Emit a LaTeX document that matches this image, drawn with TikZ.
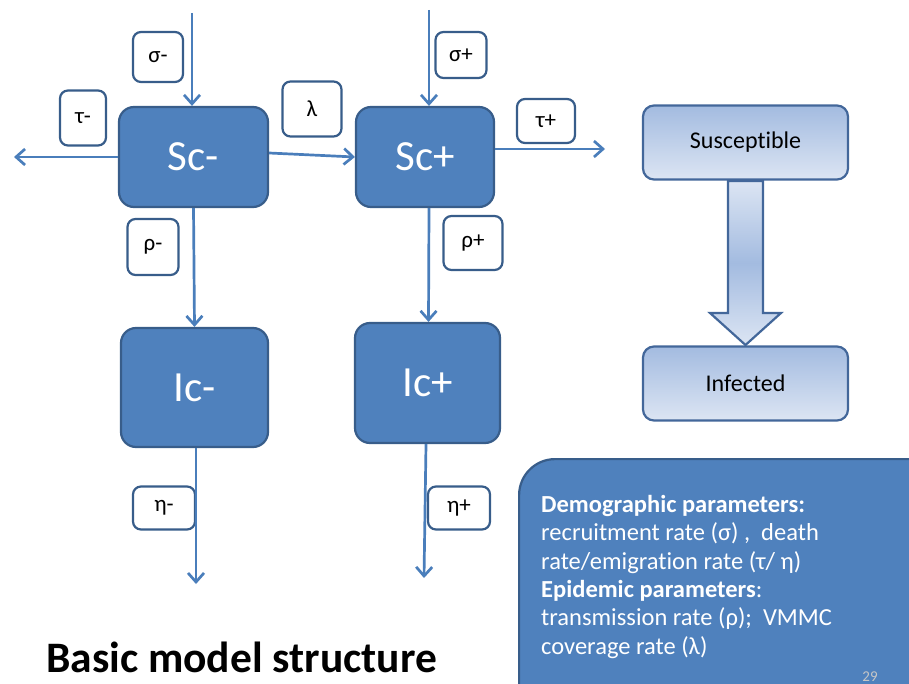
\documentclass[tikz,border=0pt]{standalone}
\usepackage{fontspec}
\setmainfont{Carlito}[Ligatures=NoCommon]
\usetikzlibrary{arrows.meta}
\usetikzlibrary{positioning}

\definecolor{boxblue}{HTML}{4F81BD}
\definecolor{edgeblue}{HTML}{385D8A}
\definecolor{lineblue}{HTML}{4A7EBB}
\definecolor{paletop}{HTML}{A3BBE0}
\definecolor{palebot}{HTML}{DCE5F3}
\definecolor{paleedge}{HTML}{43679A}

\tikzset{
    comp/.style={draw=edgeblue, line width=2.2pt, fill=boxblue, rounded corners=15pt,
        text=white, font=\fontsize{43}{45}\selectfont},
    rate/.style={draw=edgeblue, line width=2.2pt, fill=white, rounded corners=8pt,
        font=\fontsize{23}{25}\selectfont},
    flow/.style={draw=lineblue, line width=2.7pt,
        -{Straight Barb[length=9pt,width=16pt,line width=2.7pt]}},
    stage/.style={draw=paleedge, line width=2.2pt, rounded corners=11pt,
        top color=paletop, bottom color=palebot,
        minimum width=205pt, minimum height=74pt, font=\fontsize{24}{26}\selectfont},
    infobox/.style={draw=edgeblue, line width=2.2pt, fill=boxblue, rounded corners=36pt},
}

\begin{document}
\begin{tikzpicture}[x=1pt, y=-1pt]

    \useasboundingbox (0,0) rectangle (909,684);
    \clip (0,0) rectangle (909,684);

    % Compartments
    \node[comp, minimum width=149pt, minimum height=100pt] (scm) at (193.5,157) {Sc-};
    \node[comp, minimum width=138pt, minimum height=100pt] (scp) at (425,157) {Sc+};
    \node[comp, minimum width=147pt, minimum height=119pt] (icm) at (194.5,387.5) {Ic-};
    \node[comp, minimum width=145pt, minimum height=120pt] (icp) at (427.5,383) {Ic+};

    % Rate labels
    \foreach \nm/\x/\y/\w/\h/\txt in {sigm/158/57/50/50/σ-, taum/83/118/46/55/τ-,
        lam/312/109/59/55/λ, sigp/461/55/51/46/σ+, taup/546/121/58/44/τ+,
        rhom/153/247/51/56/ρ-, rhop/473/243/59/54/ρ+,
        etam/164/508/62/43/η-, etap/459/508/62/43/η+} {
        \node[rate, minimum width=\w pt, minimum height=\h pt] (\nm) at (\x,\y) {\txt};
    }

    % Flows
    \coordinate (sigmin) at (192,13);
    \coordinate (taumout) at (14,157);
    \coordinate (sigpin) at (429,10);
    \coordinate (taupout) at (605,149);
    \coordinate (etamout) at (196,584);
    \coordinate (etapout) at (424,578);
    \draw[flow] (sigmin) -- (sigmin |- scm.north);
    \draw[flow] (scm.west) -- (taumout);
    \draw[flow] ([yshift=4pt]scm.east) -- (scp.west);
    \draw[flow] (sigpin) -- (sigpin |- scp.north);
    \draw[flow] (scp.east |- taupout) -- (taupout);
    \draw[flow] (scm.south) -- (icm.north);
    \draw[flow] ([xshift=4pt]scp.south) -- ([xshift=1pt]icp.north);
    \draw[flow] ([xshift=1.5pt]icm.south) -- (etamout);
    \draw[flow] ([xshift=-1.5pt]icp.south) -- (etapout);

    % Susceptible to infected
    \node[stage] (sus) at (745.5,142.5) {Susceptible};
    \node[stage] (inf) at (745.5,383.5) {Infected};
    \draw[paleedge, line width=2.2pt, top color=palebot, bottom color=palebot, middle color=paletop]
        (728,181) -- (728,313) -- (710,313) -- (745.5,345) -- (781,313) -- (763,313) -- (763,181) -- cycle;

    % Parameters
    \node[infobox, anchor=north west, minimum width=430pt, minimum height=270pt] (parambox) at (518,458) {};
    \node[anchor=north west, inner sep=0pt, text=white, align=left,
        font=\fontsize{24.5}{28.4}\selectfont] (params) at (541,495)
        {\textbf{Demographic parameters:}\\
        recruitment rate (σ) ,~ death\\
        rate/emigration rate (τ/ η)\\
        \textbf{Epidemic parameters}:\\
        transmission rate (ρ);~ VMMC\\
        coverage rate (λ)};
    \node[text=gray!45, font=\fontsize{15}{17}\selectfont] (pagenum) at (870,677) {29};

    % Title
    \node[anchor=base west, inner sep=0pt, font=\bfseries\fontsize{43.5}{46}\selectfont] (title) at (46,672) {Basic model structure};

\end{tikzpicture}
\end{document}
